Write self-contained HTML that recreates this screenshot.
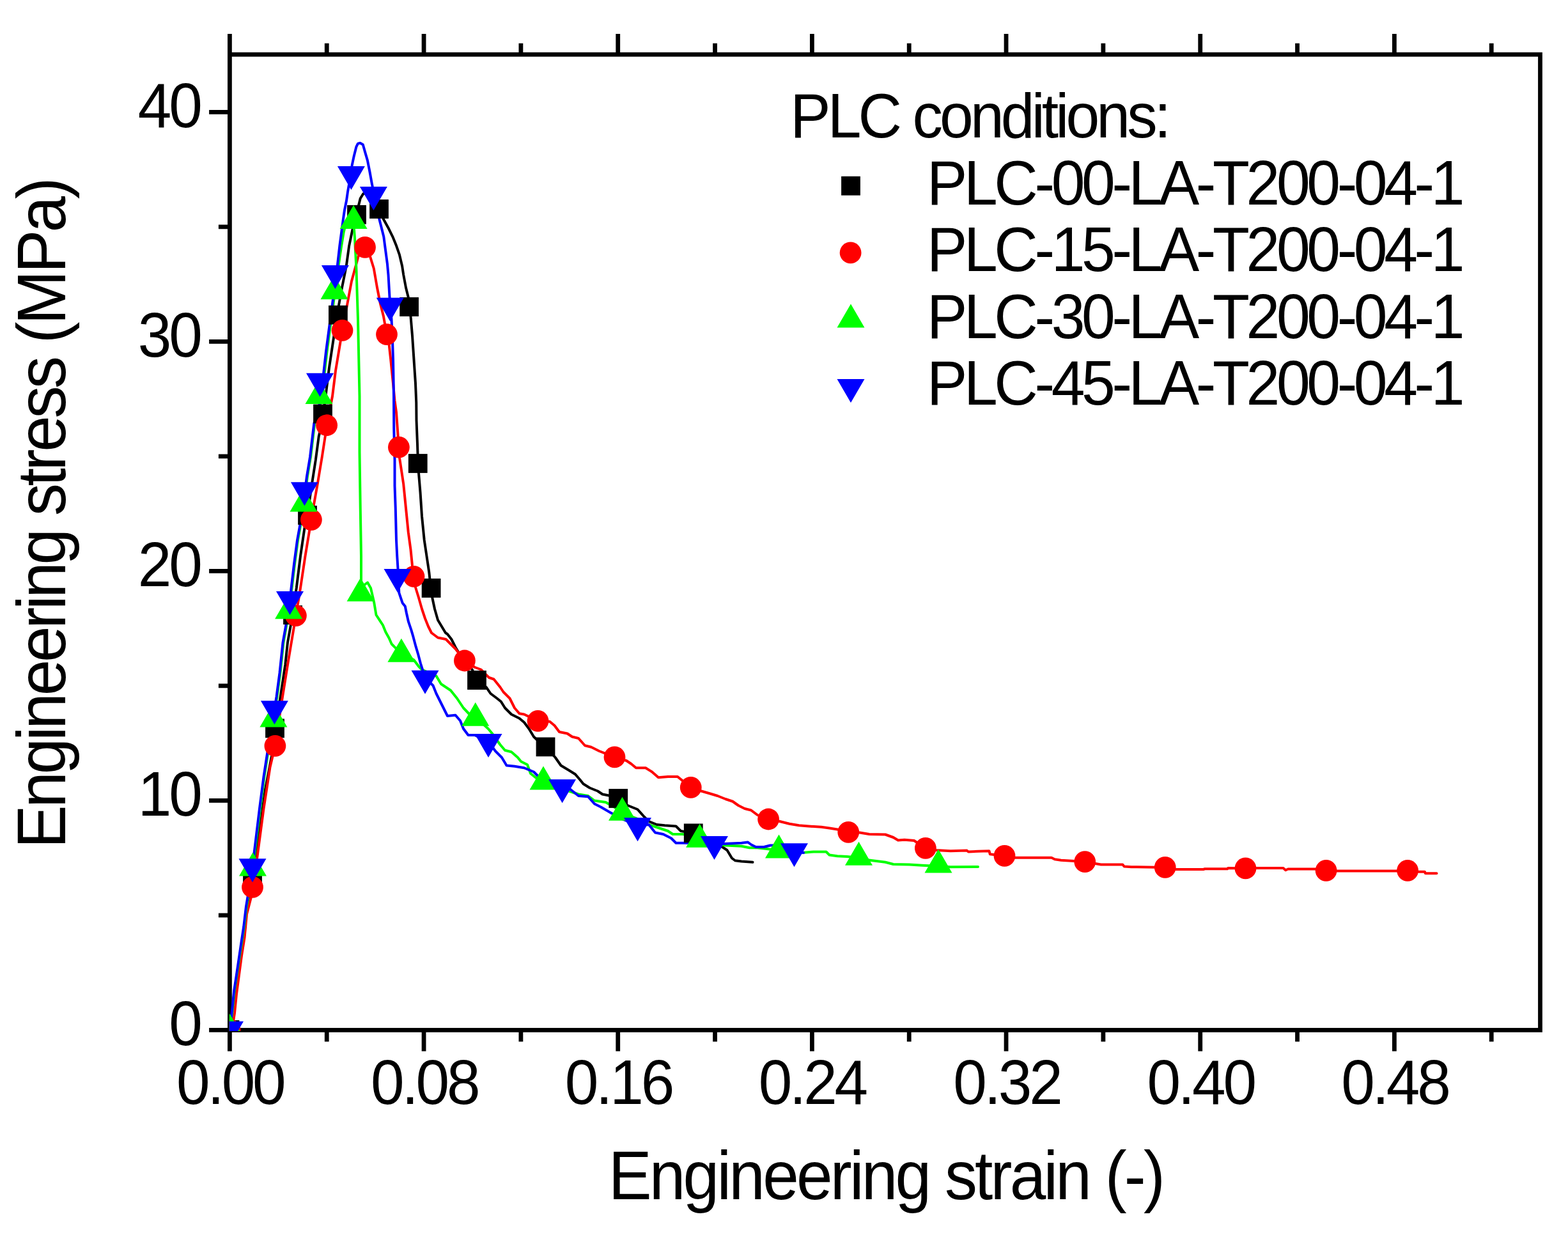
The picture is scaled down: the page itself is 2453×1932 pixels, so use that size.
<!DOCTYPE html><html><head><meta charset="utf-8"><title>Engineering stress-strain curves</title><style>html,body{margin:0;padding:0;background:#fff;overflow:hidden;}svg{display:block;}text{font-family:"Liberation Sans",Arial,sans-serif;fill:#000;font-kerning:none;}</style></head><body>
<svg width="2453" height="1932" viewBox="0 0 2453 1932">
<rect width="2453" height="1932" fill="#fff"/>
<defs><clipPath id="pa"><rect x="358.8" y="85.25" width="2050.7" height="1527.75"/></clipPath></defs>
<rect x="359.4" y="85.25" width="2050.1" height="1526.2" fill="none" stroke="#000" stroke-width="6.8"/>
<path d="M359.40,1611.45V1644.55M359.40,85.25V52.95M511.23,1611.45V1629.45M511.23,85.25V67.75M663.06,1611.45V1644.55M663.06,85.25V52.95M814.90,1611.45V1629.45M814.90,85.25V67.75M966.73,1611.45V1644.55M966.73,85.25V52.95M1118.56,1611.45V1629.45M1118.56,85.25V67.75M1270.39,1611.45V1644.55M1270.39,85.25V52.95M1422.22,1611.45V1629.45M1422.22,85.25V67.75M1574.06,1611.45V1644.55M1574.06,85.25V52.95M1725.89,1611.45V1629.45M1725.89,85.25V67.75M1877.72,1611.45V1644.55M1877.72,85.25V52.95M2029.55,1611.45V1629.45M2029.55,85.25V67.75M2181.38,1611.45V1644.55M2181.38,85.25V52.95M2333.22,1611.45V1629.45M2333.22,85.25V67.75M359.40,1611.45H327.10M359.40,1431.95H341.90M359.40,1252.45H327.10M359.40,1072.95H341.90M359.40,893.45H327.10M359.40,713.95H341.90M359.40,534.45H327.10M359.40,354.95H341.90M359.40,175.45H327.10" stroke="#000" stroke-width="6.8" fill="none"/>
<g clip-path="url(#pa)" fill="none" stroke-width="4.0" stroke-linejoin="round" stroke-linecap="round">
<polyline points="359.50,1611.00 361.50,1598.00 364.00,1575.00 367.50,1550.00 371.50,1524.00 375.50,1499.00 379.50,1474.00 383.00,1449.00 386.50,1419.00 389.50,1404.00 395.00,1365.00 402.50,1327.50 415.00,1235.00 425.00,1182.50 437.50,1097.50 446.25,1040.00 450.00,1005.00 456.25,970.00 463.75,920.00 470.00,870.00 476.25,827.50 482.50,795.00 487.50,760.00 493.75,720.00 498.75,682.50 503.75,662.50 510.00,615.00 515.00,575.00 522.50,525.00 530.00,477.50 535.00,450.00 540.00,425.00 541.90,415.20 546.20,384.30 549.70,367.50 551.80,357.60 556.00,340.00 561.60,319.00 563.70,310.50 568.00,303.50 574.00,299.50 580.00,299.00 586.00,302.00 591.00,310.00 595.00,325.00 599.60,342.20 607.30,356.20 614.30,370.30 620.00,384.30 624.90,398.40 629.10,416.00 631.25,430.00 635.00,450.00 638.75,465.00 640.50,480.00 642.50,495.00 645.00,525.00 647.50,562.50 650.00,600.00 651.25,630.00 651.50,657.50 653.00,695.00 654.00,725.00 655.00,740.00 657.50,770.00 660.00,807.50 663.75,845.00 667.50,870.00 671.25,895.00 674.00,920.00 676.25,935.00 680.00,952.50 685.00,970.00 692.50,982.50 697.00,990.00 700.00,992.00 706.25,1000.00 712.50,1012.50 720.00,1025.00 730.00,1038.00 738.75,1047.50 746.00,1064.00 760.75,1075.00 767.50,1085.00 777.50,1092.50 783.75,1097.50 790.00,1107.50 800.00,1117.50 812.50,1123.75 820.00,1130.00 827.50,1140.00 835.00,1152.50 845.00,1162.00 853.50,1168.40 868.75,1185.00 877.50,1197.50 890.00,1205.00 900.00,1211.25 907.50,1220.00 912.50,1226.25 922.50,1232.50 935.00,1237.50 942.50,1242.50 955.00,1245.00 967.25,1249.00 982.00,1260.00 997.50,1266.25 1007.50,1277.50 1015.00,1285.00 1027.50,1290.00 1040.00,1291.25 1057.50,1292.50 1065.00,1300.00 1084.75,1303.40 1110.00,1315.00 1130.00,1325.00 1137.50,1330.00 1145.00,1342.50 1150.00,1346.25 1160.00,1347.50 1177.50,1348.75" stroke="#000"/>
<polyline points="359.50,1611.00 363.00,1605.00 365.00,1598.00 367.00,1585.00 370.00,1555.00 374.00,1525.00 378.00,1495.00 382.50,1467.00 386.00,1430.00 392.50,1405.00 395.00,1388.00 402.50,1340.00 412.50,1265.00 422.50,1200.00 430.40,1166.90 440.00,1102.50 450.00,1040.00 455.00,1010.00 462.90,963.10 470.00,920.00 477.50,870.00 486.90,813.10 490.00,795.00 496.25,760.00 503.75,715.00 508.75,682.50 511.10,665.25 520.00,620.00 525.00,580.00 532.50,535.00 535.50,516.90 542.50,480.00 550.00,440.00 557.50,412.50 560.20,401.90 566.00,390.00 571.00,386.80 576.00,392.00 579.20,401.90 584.80,420.00 590.00,450.00 595.00,475.00 600.00,495.00 605.00,523.10 608.75,540.00 611.25,562.50 615.00,600.00 617.50,627.00 620.00,645.00 623.90,699.60 625.00,716.25 627.50,732.50 631.25,757.50 635.00,795.00 638.75,832.50 642.50,860.00 645.00,885.00 647.50,901.90 650.00,918.75 655.00,935.00 660.00,952.50 665.00,967.50 670.00,980.00 675.00,990.00 685.00,997.50 697.50,1000.00 705.00,1007.50 712.50,1015.00 726.90,1033.50 742.50,1043.75 752.50,1047.50 765.00,1060.00 772.50,1062.50 782.50,1075.00 787.50,1082.50 797.50,1092.50 805.00,1107.50 812.50,1116.25 820.00,1117.50 841.50,1127.90 860.00,1128.75 867.50,1135.00 875.00,1145.00 887.50,1147.50 895.00,1152.50 905.00,1155.00 915.00,1166.25 925.00,1168.75 937.50,1175.00 961.50,1184.40 980.00,1190.00 987.50,1195.00 995.00,1201.25 1010.00,1201.25 1020.00,1207.50 1030.00,1216.25 1045.00,1215.00 1060.00,1215.00 1080.75,1231.90 1097.00,1237.50 1110.00,1241.25 1122.50,1245.00 1135.00,1250.00 1146.25,1253.75 1155.00,1260.00 1165.00,1265.00 1175.00,1267.50 1185.00,1275.00 1202.10,1281.50 1220.00,1285.00 1235.00,1288.75 1250.00,1291.25 1265.00,1292.50 1285.00,1293.75 1297.50,1295.50 1310.00,1297.50 1327.25,1301.90 1345.00,1302.50 1360.00,1305.00 1385.00,1305.50 1397.50,1310.00 1405.00,1314.50 1415.00,1313.75 1430.00,1315.00 1447.90,1326.90 1465.00,1330.00 1487.00,1331.25 1512.50,1330.50 1515.00,1332.50 1530.00,1331.75 1547.50,1331.25 1548.75,1336.25 1571.50,1338.90 1588.00,1341.75 1645.00,1341.75 1650.00,1344.25 1660.00,1345.75 1697.25,1348.10 1715.00,1351.25 1722.50,1352.50 1756.25,1352.50 1758.75,1355.50 1770.00,1356.25 1822.75,1356.90 1840.00,1360.00 1882.50,1360.00 1885.00,1359.25 1920.00,1359.25 1921.25,1358.00 1948.50,1358.40 1965.00,1358.00 2007.50,1358.00 2011.25,1361.25 2015.00,1359.50 2057.50,1359.50 2074.60,1361.90 2091.25,1362.50 2185.00,1362.50 2202.10,1361.90 2218.75,1363.75 2228.75,1363.75 2230.00,1366.25 2247.50,1366.25" stroke="#f00"/>
<polyline points="359.50,1611.00 361.00,1597.00 363.00,1587.00 366.80,1550.00 370.60,1524.70 374.40,1499.80 378.20,1474.80 382.00,1449.90 385.70,1418.70 388.30,1403.70 391.00,1390.00 398.50,1335.00 407.00,1265.00 413.50,1215.00 418.50,1182.50 426.00,1135.00 433.50,1090.00 438.50,1052.50 443.50,1005.00 449.75,970.00 456.00,925.00 461.00,882.50 466.00,845.00 471.00,817.50 476.00,782.50 481.00,745.00 486.00,715.00 492.25,662.50 502.50,627.00 511.50,550.00 521.50,475.00 526.50,440.00 530.00,412.40 534.20,384.30 537.70,363.20 542.00,345.00 546.00,338.00 550.00,333.00 553.00,331.00 553.90,358.30 554.90,370.30 556.00,391.40 557.40,419.50 560.00,500.00 562.50,620.00 562.50,707.50 563.75,795.00 565.00,870.00 565.00,911.00 566.00,925.00 570.00,915.00 575.00,911.25 580.00,920.00 585.30,943.00 588.50,962.00 594.80,971.70 599.00,978.00 603.20,988.50 608.50,998.00 612.70,1007.50 618.00,1012.80 622.50,1018.00 630.00,1025.00 640.00,1028.00 647.50,1032.50 655.00,1042.50 660.00,1047.50 682.50,1057.50 690.00,1070.00 697.50,1075.00 705.00,1080.00 715.00,1092.50 725.00,1107.50 735.00,1118.00 743.75,1123.75 755.00,1132.00 763.75,1140.00 770.00,1147.50 782.50,1165.00 790.00,1173.75 800.00,1176.25 810.00,1185.00 815.00,1191.25 825.00,1196.25 830.00,1210.00 840.00,1218.00 850.00,1223.50 870.00,1232.00 890.00,1237.50 905.00,1242.50 920.00,1245.00 930.00,1252.50 947.50,1255.00 960.00,1262.00 973.50,1271.75 995.00,1280.00 1015.00,1290.00 1030.00,1295.00 1045.00,1300.00 1052.50,1305.00 1067.00,1305.00 1080.00,1306.00 1094.60,1313.75 1110.00,1320.00 1135.00,1322.50 1160.00,1323.75 1172.50,1326.25 1185.00,1326.25 1200.00,1328.00 1218.50,1330.50 1240.00,1333.00 1257.50,1333.75 1272.50,1332.50 1292.50,1332.50 1297.50,1337.50 1310.00,1339.25 1325.00,1340.00 1343.50,1341.75 1355.00,1345.00 1365.00,1346.25 1385.00,1348.75 1397.50,1352.00 1422.50,1352.50 1442.50,1353.75 1468.00,1355.00 1487.00,1356.25 1530.00,1356.00" stroke="#0f0"/>
<polyline points="359.50,1611.00 362.40,1587.00 366.20,1549.60 370.00,1524.70 373.70,1499.80 377.40,1474.80 381.20,1449.90 384.90,1418.70 387.40,1403.70 390.00,1390.00 397.50,1335.00 406.00,1265.00 412.50,1215.00 417.50,1182.50 425.00,1135.00 432.50,1090.00 437.50,1052.50 442.50,1005.00 448.75,970.00 455.00,925.00 460.00,882.50 465.00,845.00 470.00,817.50 475.00,782.50 480.00,745.00 485.00,715.00 491.25,662.50 501.25,627.00 510.00,550.00 520.00,475.00 525.00,440.00 531.40,384.30 534.20,363.20 537.00,342.20 539.10,328.10 542.00,314.00 544.00,300.00 547.50,280.00 550.80,258.00 553.80,243.90 557.30,229.90 559.90,224.60 563.40,223.70 567.80,226.30 571.30,238.60 574.90,250.90 578.40,268.50 581.90,287.80 586.00,308.00 589.50,325.00 593.20,342.20 596.80,356.20 600.30,370.30 603.10,391.40 605.90,412.40 607.50,430.00 609.50,465.00 611.00,480.00 612.50,500.00 613.75,525.00 615.00,562.50 616.00,620.00 616.25,670.00 617.50,720.00 617.50,760.00 618.75,795.00 620.00,845.00 621.25,870.00 622.50,890.00 623.50,910.00 624.30,927.40 629.60,943.20 633.80,948.50 635.90,959.00 639.00,972.70 643.30,985.40 646.40,995.90 650.60,1011.70 653.80,1022.30 658.00,1038.00 665.00,1060.00 677.50,1072.50 682.50,1085.00 687.50,1095.00 695.00,1110.00 700.00,1120.00 712.50,1118.75 720.00,1127.50 725.00,1140.00 732.50,1150.00 742.50,1150.00 764.00,1160.00 775.00,1175.00 785.00,1185.00 792.50,1197.50 805.00,1198.75 820.00,1201.25 835.00,1207.50 842.50,1215.00 860.00,1222.00 879.60,1231.25 892.50,1235.00 905.00,1245.00 920.00,1246.25 930.00,1257.50 940.00,1262.50 955.00,1271.25 975.00,1282.00 997.50,1291.25 1015.00,1290.00 1025.00,1302.50 1037.50,1305.00 1050.00,1311.25 1057.50,1318.75 1067.00,1318.75 1090.00,1319.00 1117.50,1320.00 1132.50,1320.00 1160.00,1318.75 1170.00,1317.50 1175.00,1321.25 1182.50,1325.00 1195.00,1325.00 1205.00,1322.50 1215.00,1322.50 1230.00,1327.00 1242.50,1331.00 1257.00,1334.00" stroke="#00f"/>
</g>
<g clip-path="url(#pa)">
<rect x="344.60" y="1596.10" width="29.8" height="29.8" fill="#000"/>
<rect x="380.10" y="1363.10" width="29.8" height="29.8" fill="#000"/>
<rect x="415.10" y="1124.50" width="29.8" height="29.8" fill="#000"/>
<rect x="443.10" y="947.10" width="29.8" height="29.8" fill="#000"/>
<rect x="466.10" y="791.10" width="29.8" height="29.8" fill="#000"/>
<rect x="490.10" y="632.60" width="29.8" height="29.8" fill="#000"/>
<rect x="514.00" y="477.85" width="29.8" height="29.8" fill="#000"/>
<rect x="543.10" y="320.90" width="29.8" height="29.8" fill="#000"/>
<rect x="578.10" y="312.10" width="29.8" height="29.8" fill="#000"/>
<rect x="625.20" y="465.10" width="29.8" height="29.8" fill="#000"/>
<rect x="638.85" y="710.10" width="29.8" height="29.8" fill="#000"/>
<rect x="659.70" y="905.10" width="29.8" height="29.8" fill="#000"/>
<rect x="731.10" y="1049.10" width="29.8" height="29.8" fill="#000"/>
<rect x="838.60" y="1153.50" width="29.8" height="29.8" fill="#000"/>
<rect x="952.35" y="1234.10" width="29.8" height="29.8" fill="#000"/>
<rect x="1069.85" y="1288.50" width="29.8" height="29.8" fill="#000"/>
<circle cx="359.50" cy="1611.00" r="16.9" fill="#f00"/>
<circle cx="395.00" cy="1387.90" r="16.9" fill="#f00"/>
<circle cx="430.40" cy="1166.90" r="16.9" fill="#f00"/>
<circle cx="462.90" cy="963.10" r="16.9" fill="#f00"/>
<circle cx="486.90" cy="813.10" r="16.9" fill="#f00"/>
<circle cx="511.10" cy="665.25" r="16.9" fill="#f00"/>
<circle cx="535.50" cy="516.90" r="16.9" fill="#f00"/>
<circle cx="571.00" cy="386.80" r="16.9" fill="#f00"/>
<circle cx="605.00" cy="523.10" r="16.9" fill="#f00"/>
<circle cx="623.90" cy="699.60" r="16.9" fill="#f00"/>
<circle cx="647.50" cy="901.90" r="16.9" fill="#f00"/>
<circle cx="726.90" cy="1033.50" r="16.9" fill="#f00"/>
<circle cx="841.50" cy="1127.90" r="16.9" fill="#f00"/>
<circle cx="961.50" cy="1184.40" r="16.9" fill="#f00"/>
<circle cx="1080.75" cy="1231.90" r="16.9" fill="#f00"/>
<circle cx="1202.10" cy="1281.50" r="16.9" fill="#f00"/>
<circle cx="1327.25" cy="1301.90" r="16.9" fill="#f00"/>
<circle cx="1447.90" cy="1326.90" r="16.9" fill="#f00"/>
<circle cx="1571.50" cy="1338.90" r="16.9" fill="#f00"/>
<circle cx="1697.25" cy="1348.10" r="16.9" fill="#f00"/>
<circle cx="1822.75" cy="1356.90" r="16.9" fill="#f00"/>
<circle cx="1948.50" cy="1358.40" r="16.9" fill="#f00"/>
<circle cx="2074.60" cy="1361.90" r="16.9" fill="#f00"/>
<circle cx="2202.10" cy="1361.90" r="16.9" fill="#f00"/>
<polygon points="338.00,1623.00 381.00,1623.00 359.50,1586.00" fill="#0f0"/>
<polygon points="374.00,1370.50 417.00,1370.50 395.50,1333.50" fill="#0f0"/>
<polygon points="406.40,1137.50 449.40,1137.50 427.90,1100.50" fill="#0f0"/>
<polygon points="430.10,968.25 473.10,968.25 451.60,931.25" fill="#0f0"/>
<polygon points="453.50,800.50 496.50,800.50 475.00,763.50" fill="#0f0"/>
<polygon points="477.50,632.00 520.50,632.00 499.00,595.00" fill="#0f0"/>
<polygon points="501.50,468.25 544.50,468.25 523.00,431.25" fill="#0f0"/>
<polygon points="531.60,358.00 574.60,358.00 553.10,321.00" fill="#0f0"/>
<polygon points="542.60,940.75 585.60,940.75 564.10,903.75" fill="#0f0"/>
<polygon points="606.40,1035.75 649.40,1035.75 627.90,998.75" fill="#0f0"/>
<polygon points="722.25,1135.75 765.25,1135.75 743.75,1098.75" fill="#0f0"/>
<polygon points="828.50,1235.50 871.50,1235.50 850.00,1198.50" fill="#0f0"/>
<polygon points="952.00,1283.75 995.00,1283.75 973.50,1246.75" fill="#0f0"/>
<polygon points="1073.10,1325.75 1116.10,1325.75 1094.60,1288.75" fill="#0f0"/>
<polygon points="1197.00,1342.50 1240.00,1342.50 1218.50,1305.50" fill="#0f0"/>
<polygon points="1322.00,1353.75 1365.00,1353.75 1343.50,1316.75" fill="#0f0"/>
<polygon points="1446.50,1365.50 1489.50,1365.50 1468.00,1328.50" fill="#0f0"/>
<polygon points="338.00,1597.70 381.00,1597.70 359.50,1634.70" fill="#00f"/>
<polygon points="373.50,1343.25 416.50,1343.25 395.00,1380.25" fill="#00f"/>
<polygon points="407.90,1096.25 450.90,1096.25 429.40,1133.25" fill="#00f"/>
<polygon points="432.00,925.00 475.00,925.00 453.50,962.00" fill="#00f"/>
<polygon points="454.90,754.25 497.90,754.25 476.40,791.25" fill="#00f"/>
<polygon points="479.00,583.75 522.00,583.75 500.50,620.75" fill="#00f"/>
<polygon points="502.90,415.00 545.90,415.00 524.40,452.00" fill="#00f"/>
<polygon points="527.90,260.00 570.90,260.00 549.40,297.00" fill="#00f"/>
<polygon points="562.90,292.00 605.90,292.00 584.40,329.00" fill="#00f"/>
<polygon points="588.75,465.75 631.75,465.75 610.25,502.75" fill="#00f"/>
<polygon points="600.50,890.00 643.50,890.00 622.00,927.00" fill="#00f"/>
<polygon points="643.50,1048.75 686.50,1048.75 665.00,1085.75" fill="#00f"/>
<polygon points="742.50,1148.00 785.50,1148.00 764.00,1185.00" fill="#00f"/>
<polygon points="858.10,1219.25 901.10,1219.25 879.60,1256.25" fill="#00f"/>
<polygon points="976.00,1279.25 1019.00,1279.25 997.50,1316.25" fill="#00f"/>
<polygon points="1096.00,1308.00 1139.00,1308.00 1117.50,1345.00" fill="#00f"/>
<polygon points="1221.00,1319.25 1264.00,1319.25 1242.50,1356.25" fill="#00f"/>
</g>
<text transform="translate(276.11,1727.00) scale(0.97,1)" font-size="97.5" letter-spacing="-4.286">0.00</text>
<text transform="translate(579.96,1727.00) scale(0.97,1)" font-size="97.5" letter-spacing="-4.286">0.08</text>
<text transform="translate(883.67,1727.00) scale(0.97,1)" font-size="97.5" letter-spacing="-4.286">0.16</text>
<text transform="translate(1186.63,1727.00) scale(0.97,1)" font-size="97.5" letter-spacing="-4.286">0.24</text>
<text transform="translate(1491.28,1727.00) scale(0.97,1)" font-size="97.5" letter-spacing="-4.286">0.32</text>
<text transform="translate(1794.43,1727.00) scale(0.97,1)" font-size="97.5" letter-spacing="-4.286">0.40</text>
<text transform="translate(2098.28,1727.00) scale(0.97,1)" font-size="97.5" letter-spacing="-4.286">0.48</text>
<text transform="translate(264.30,1635.25) scale(0.97,1)" font-size="97.5" letter-spacing="-4.286">0</text>
<text transform="translate(215.86,1276.25) scale(0.97,1)" font-size="97.5" letter-spacing="-4.286">10</text>
<text transform="translate(215.86,917.25) scale(0.97,1)" font-size="97.5" letter-spacing="-4.286">20</text>
<text transform="translate(215.86,558.25) scale(0.97,1)" font-size="97.5" letter-spacing="-4.286">30</text>
<text transform="translate(215.86,199.25) scale(0.97,1)" font-size="97.5" letter-spacing="-4.286">40</text>
<text transform="translate(951.65,1875.75) scale(0.95,1)" font-size="107.2" letter-spacing="-3.993">Engineering strain (-)</text>
<text transform="translate(102.05,1327.25) rotate(-90) scale(0.95,1)" font-size="107.2" letter-spacing="-4.528">Engineering stress (MPa)</text>
<text transform="translate(1236.27,214.80) scale(0.96,1)" font-size="98.8" letter-spacing="-5.090">PLC conditions:</text>
<text transform="translate(1450.12,320.00) scale(0.96,1)" font-size="98.8" letter-spacing="-5.605">PLC-00-LA-T200-04-1</text>
<text transform="translate(1450.12,423.90) scale(0.96,1)" font-size="98.8" letter-spacing="-5.605">PLC-15-LA-T200-04-1</text>
<text transform="translate(1450.12,528.70) scale(0.96,1)" font-size="98.8" letter-spacing="-5.605">PLC-30-LA-T200-04-1</text>
<text transform="translate(1450.12,632.50) scale(0.96,1)" font-size="98.8" letter-spacing="-5.605">PLC-45-LA-T200-04-1</text>
<rect x="1316.10" y="275.85" width="29.8" height="29.8" fill="#000"/>
<circle cx="1330.60" cy="395.40" r="16.9" fill="#f00"/>
<polygon points="1309.50,512.50 1352.50,512.50 1331.00,475.50" fill="#0f0"/>
<polygon points="1309.50,593.00 1352.50,593.00 1331.00,630.00" fill="#00f"/>
</svg></body></html>
